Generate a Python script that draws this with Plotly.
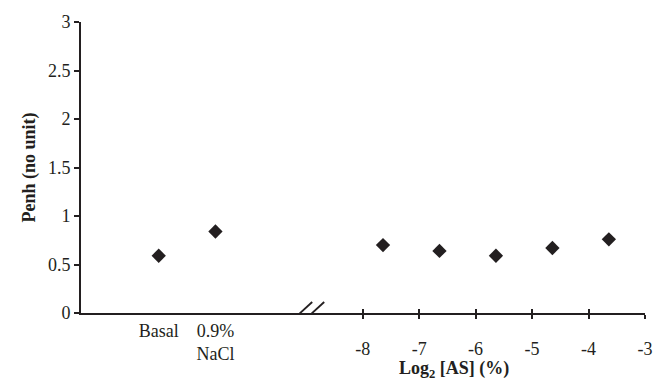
import plotly.graph_objects as go

# ---- data ----
categories = ["Basal", "0.9%<br>NaCl"]
cat_penh = [0.59, 0.84]
log2_conc = [-7.64, -6.64, -5.64, -4.64, -3.64]
conc_penh = [0.70, 0.64, 0.59, 0.67, 0.76]
y_ticks = [0, 0.5, 1, 1.5, 2, 2.5, 3]
y_ticktext = ["0", "0.5", "1", "1.5", "2", "2.5", "3"]
x2_ticks = [-8, -7, -6, -5, -4, -3]
x2_ticktext = ["-8", "-7", "-6", "-5", "-4", "-3"]

INK = "#231f20"
FONT = "Liberation Serif"
FS = 18
BREAK = 0.3993

fig = go.Figure()
fig.add_trace(go.Scatter(x=categories, y=cat_penh, mode="markers", xaxis="x", yaxis="y",
                         marker=dict(symbol="diamond", size=11, color=INK), showlegend=False))
fig.add_trace(go.Scatter(x=log2_conc, y=conc_penh, mode="markers", xaxis="x2", yaxis="y",
                         marker=dict(symbol="diamond", size=11, color=INK), showlegend=False))
# invisible helper so the overlaid axis (inner tick halves) is drawn
fig.add_trace(go.Scatter(x=log2_conc, y=conc_penh, mode="markers", xaxis="x3", yaxis="y",
                         marker=dict(size=1, opacity=0), hoverinfo="skip", showlegend=False))

fig.update_layout(
    width=665, height=382,
    margin=dict(l=81, r=18, t=18, b=69),
    paper_bgcolor="white", plot_bgcolor="white",
    font=dict(family=FONT, size=FS, color=INK),
    xaxis=dict(domain=[0, BREAK], type="category", range=[-1.37, 2.6],
               showline=True, linecolor=INK, linewidth=2, ticks="",
               showgrid=False, zeroline=False, anchor="y",
               tickfont=dict(family=FONT, size=FS, color=INK)),
    xaxis2=dict(domain=[BREAK, 1], range=[-9, -3], tickvals=x2_ticks, ticktext=x2_ticktext,
                showline=True, linecolor=INK, linewidth=2,
                ticks="outside", ticklen=4, tickwidth=1.5, tickcolor=INK,
                ticklabelstandoff=14,
                showgrid=False, zeroline=False, anchor="y",
                tickfont=dict(family=FONT, size=FS, color=INK)),
    xaxis3=dict(overlaying="x2", range=[-9, -3], tickvals=x2_ticks,
                ticks="inside", ticklen=4, tickwidth=1.5, tickcolor=INK,
                showticklabels=False, showline=False, showgrid=False,
                zeroline=False, anchor="y", side="bottom"),
    yaxis=dict(range=[0, 3], tickvals=y_ticks, ticktext=y_ticktext,
               showline=True, linecolor=INK, linewidth=2,
               ticks="outside", ticklen=5, tickwidth=1.5, tickcolor=INK,
               showgrid=False, zeroline=False,
               tickfont=dict(family=FONT, size=FS, color=INK),
               title=dict(text="<b>Penh (no unit)</b>", standoff=8,
                          font=dict(family=FONT, size=FS, color=INK))),
    annotations=[dict(text="<b>Log<sub>2</sub> [AS] (%)</b>", xref="paper", yref="paper",
                      x=0.763, y=0, yanchor="middle", yshift=-56, showarrow=False,
                      font=dict(family=FONT, size=FS, color=INK))],
    shapes=[
        dict(type="line", xref="paper", yref="y", xsizemode="pixel", ysizemode="pixel",
             xanchor=BREAK, yanchor=0, x0=-18, x1=6, y0=-11, y1=11,
             line=dict(color=INK, width=1.8)),
        dict(type="line", xref="paper", yref="y", xsizemode="pixel", ysizemode="pixel",
             xanchor=BREAK, yanchor=0, x0=-6, x1=18, y0=-11, y1=11,
             line=dict(color=INK, width=1.8)),
    ],
)

fig.write_html("out.html", config={"displayModeBar": False},
               post_script="document.body.style.margin='0';document.body.style.padding='0';")
